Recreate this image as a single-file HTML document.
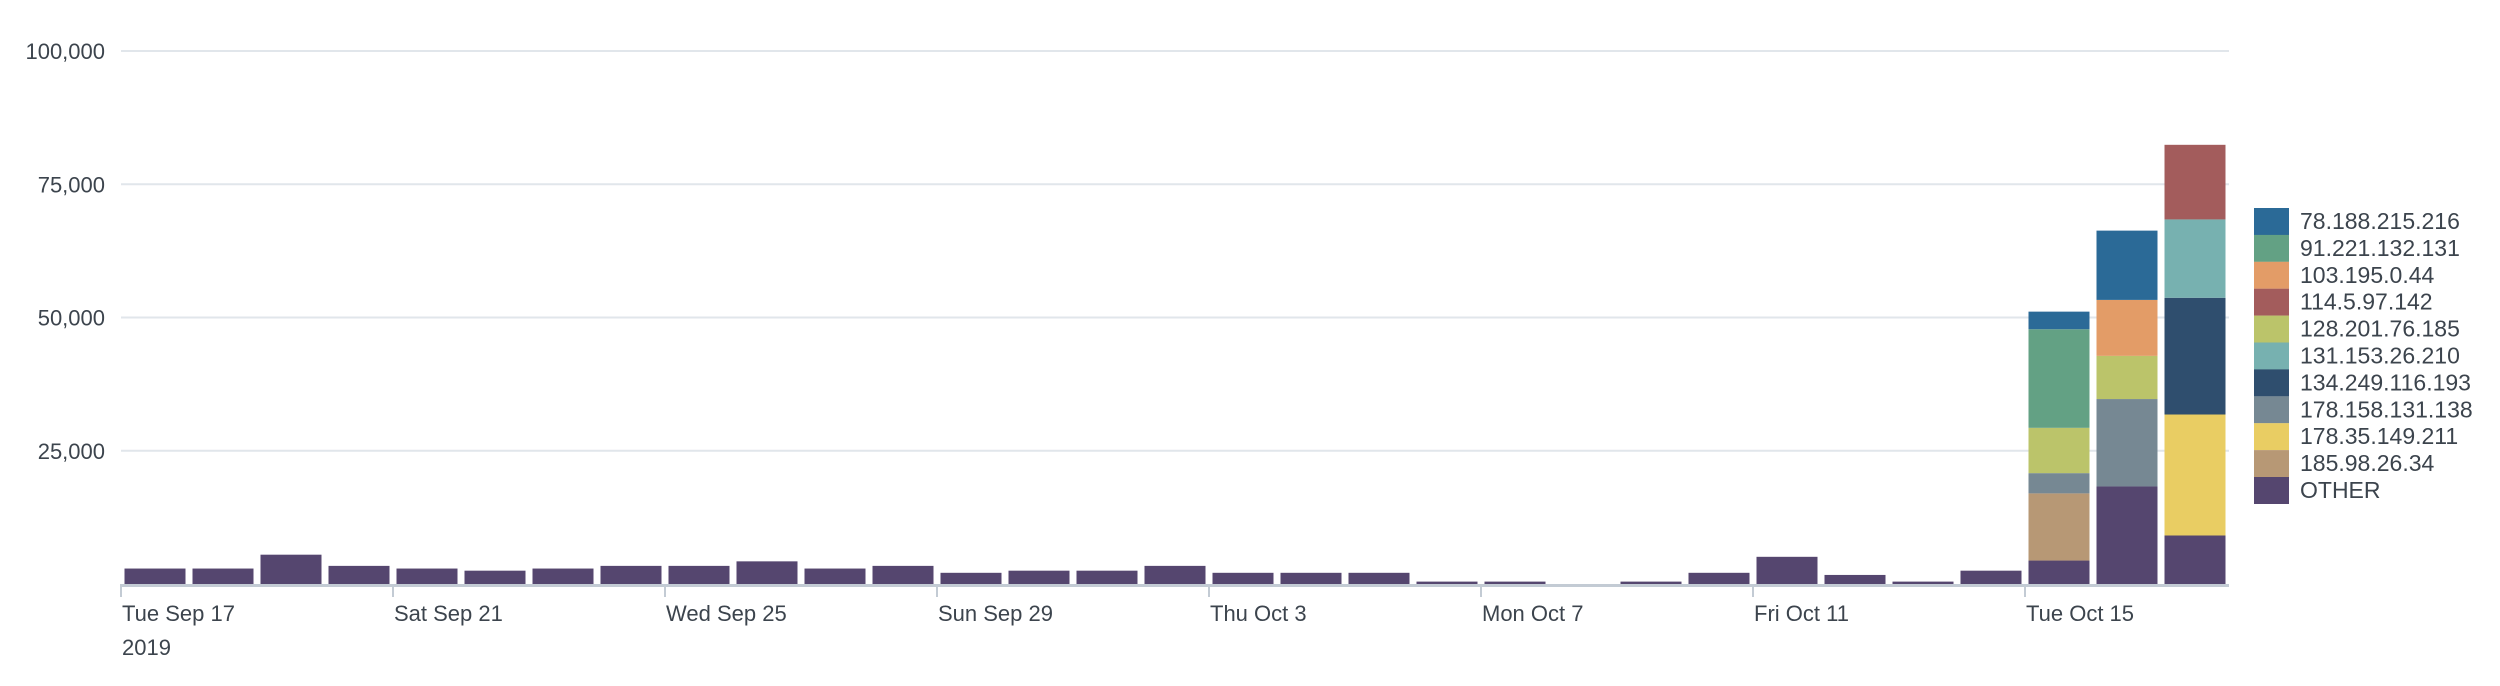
<!DOCTYPE html>
<html><head><meta charset="utf-8"><style>
body{margin:0;background:#fff;}
svg text{font-family:"Liberation Sans",sans-serif;fill:#3c444d;}
</style></head><body>
<svg id="chart" width="2500" height="681" xmlns="http://www.w3.org/2000/svg"></svg>
<script>
const seriesNames=["78.188.215.216","91.221.132.131","103.195.0.44","114.5.97.142","128.201.76.185","131.153.26.210","134.249.116.193","178.158.131.138","178.35.149.211","185.98.26.34","OTHER"];
const seriesColors=["#2b6a97","#63a184","#e39c67","#a35c5c","#bbc46a","#77b1b0","#2f4e6e","#768893","#e9cd63","#b79875","#55466f"];
const otherValues=[2900,2900,5500,3400,2900,2500,2900,3400,3400,4250,2900,3400,2100,2500,2500,3400,2100,2100,2100,450,450,0,450,2100,5100,1700,450,2500,4400,18300,9100];
// stacked segments for last 3 days (bottom-up order excluding OTHER): [seriesIndex, value]
const oct15=[[9,12600],[7,3800],[4,8500],[1,18500],[0,3300]];
const oct16=[[7,16400],[4,8100],[2,10500],[0,13000]];
const oct17=[[8,22700],[6,21900],[5,14700],[3,14000]];
const yTicks=[25000,50000,75000,100000];
const yTickLabels=["25,000","50,000","75,000","100,000"];
const xTickIdx=[0,4,8,12,16,20,24,28];
const xTickLabels=["Tue Sep 17","Sat Sep 21","Wed Sep 25","Sun Sep 29","Thu Oct 3","Mon Oct 7","Fri Oct 11","Tue Oct 15"];

const svg=document.getElementById('chart');
const NS="http://www.w3.org/2000/svg";
const X0=121,DAY=68,Y0=584,YTOP=51;
const xs=i=>X0+i*DAY;
const ys=v=>Y0-(v/100000)*(Y0-YTOP);
function mk(t,a){const e=document.createElementNS(NS,t);for(const k in a)e.setAttribute(k,a[k]);svg.appendChild(e);return e;}
yTicks.forEach((v,i)=>{
  const g=mk('line',{x1:X0,x2:2229,y1:ys(v),y2:ys(v),stroke:'#e1e6eb','stroke-width':2});
  
  
  const t=mk('text',{x:105,y:ys(v)+8,'font-size':22,'text-anchor':'end'});
  t.textContent=yTickLabels[i];
  
  
});
function bar(i,v0,v1,color){
  const r=mk('rect',{x:xs(i)+3.5,width:61,y:ys(v1),height:Math.max(0,ys(v0)-ys(v1)),fill:color});
  
  
}
otherValues.forEach((v,i)=>bar(i,0,v,seriesColors[10]));
[[28,oct15],[29,oct16],[30,oct17]].forEach(([i,segs])=>{
  let acc=otherValues[i];
  segs.forEach(([s,v])=>{bar(i,acc,acc+v,seriesColors[s]);acc+=v;});
});
const ax=mk('line',{x1:X0,x2:2229,y1:Y0+1.5,y2:Y0+1.5,stroke:'#c3cbd4','stroke-width':3});


xTickIdx.forEach((d,i)=>{
  const tk=mk('line',{x1:xs(d),x2:xs(d),y1:Y0,y2:597,stroke:'#c3cbd4','stroke-width':2});
  
  
  const t=mk('text',{x:xs(d)+1,y:621,'font-size':22});
  t.textContent=xTickLabels[i];
  
  
});
const yr=mk('text',{x:X0+1,y:655,'font-size':22});
yr.textContent="2019";


seriesNames.forEach((n,i)=>{
  const y=208+i*26.9;
  const r=mk('rect',{x:2254,y:y,width:35,height:27,fill:seriesColors[i]});
  
  
  const t=mk('text',{x:2300,y:y+21,'font-size':23});
  t.textContent=n;
  
  
});
</script>
</body></html>
